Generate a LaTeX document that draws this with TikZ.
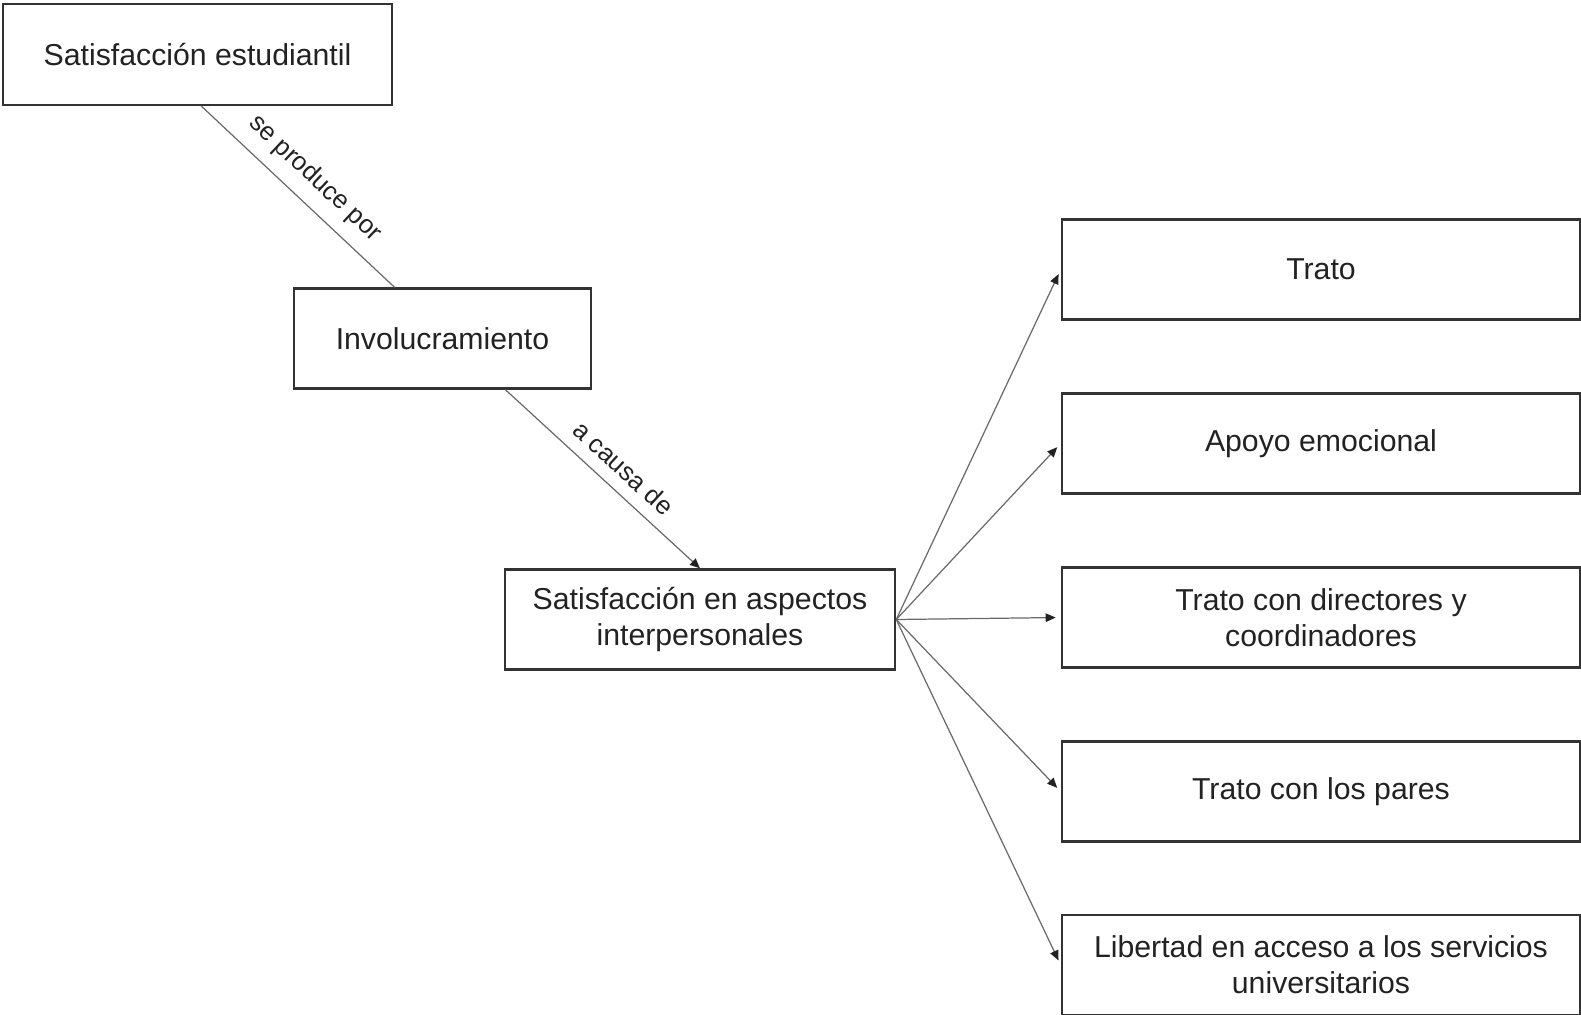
\documentclass[tikz,border=0pt]{standalone}
\usepackage{fontspec}
\setmainfont{Liberation Sans}
\usetikzlibrary{arrows.meta,calc}
\definecolor{boxline}{HTML}{333333}
\definecolor{linkline}{HTML}{6A6A6A}
\definecolor{ink}{HTML}{222222}
\begin{document}
\begin{tikzpicture}[x=0.01cm,y=-0.01cm,
  concept/.style={draw=boxline,line width=0.65pt,fill=white,text=ink,
    font=\fontsize{8.6}{10.3}\selectfont,align=center,inner sep=0pt},
  link/.style={draw=linkline,line width=0.35pt},
  tip/.style={-{Triangle[length=0.1cm,width=0.085cm,color=ink,fill=ink]}},
  arrowlink/.style={link,tip,shorten >=0.05cm},
  linklabel/.style={font=\fontsize{7.3}{8.6}\selectfont,text=ink,sloped,above,inner sep=3.5pt}]
  \useasboundingbox (0,0) rectangle (1581,1015);

  % central chain
  \node[concept,minimum width=3.89cm,minimum height=1.01cm] (sat) at (197.5,54.5) {Satisfacción estudiantil};
  \node[concept,minimum width=2.97cm,minimum height=1.00cm] (inv) at (442.5,338.5) {Involucramiento};
  \node[concept,minimum width=3.90cm,minimum height=1.00cm] (asp) at (700,619.5) {Satisfacción en aspectos\\interpersonales};

  % aspects
  \foreach \n/\y/\t in {t1/269.5/{Trato},
                        t2/443.5/{Apoyo emocional},
                        t3/617.5/{Trato con directores y\\coordinadores},
                        t4/791.5/{Trato con los pares},
                        t5/965/{Libertad en acceso a los servicios\\universitarios}}
    \node[concept,minimum width=5.18cm,minimum height=1.00cm] (\n) at (1321,\y) {\t};

  % relations
  \draw[link] ($(sat.south west)!0.51!(sat.south east)$) -- ($(inv.north west)!0.34!(inv.north east)$)
    node[linklabel,pos=0.5] {se produce por};
  \draw[link,tip] ($(inv.south west)!0.71!(inv.south east)$) -- (asp.north)
    node[linklabel,pos=0.53] {a causa de};

  \foreach \n in {t1,t2,t3,t4,t5}
    \draw[arrowlink] (asp.east) -- (\n.west);
\end{tikzpicture}
\end{document}
